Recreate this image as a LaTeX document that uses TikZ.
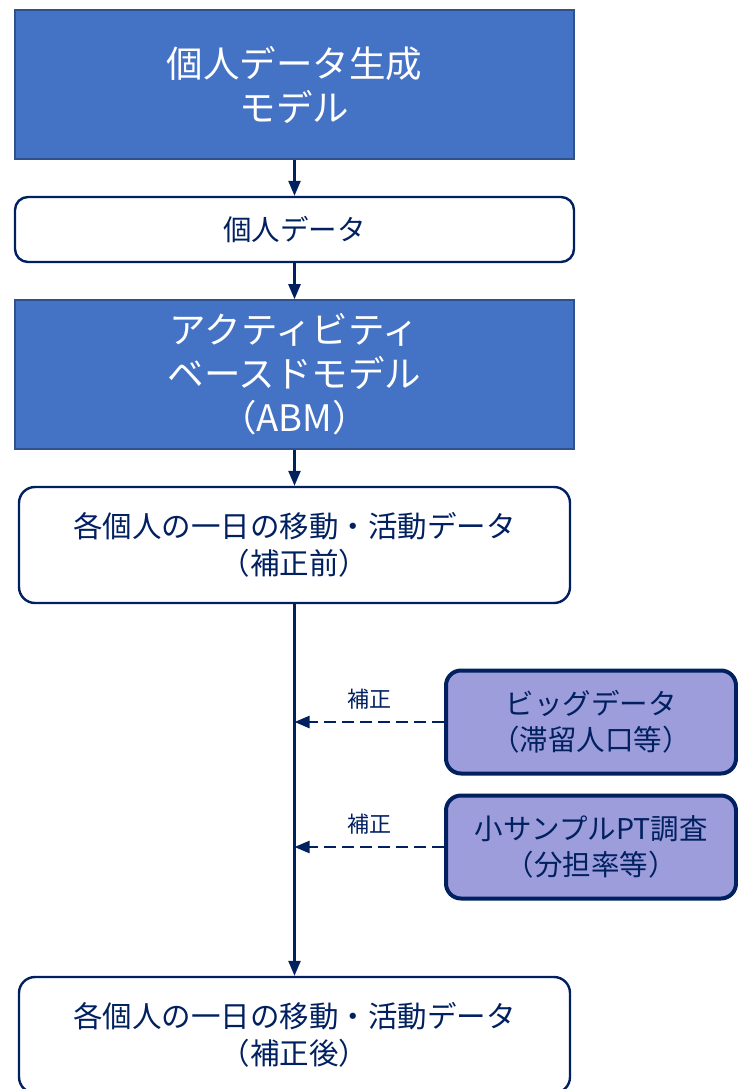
\documentclass[tikz,border=0pt]{standalone}
\usepackage{fontspec}
\setmainfont{Noto Sans CJK JP}
\usetikzlibrary{arrows.meta,calc}
\definecolor{bluefill}{HTML}{4472C4}
\definecolor{blueedge}{HTML}{2F528F}
\definecolor{navy}{HTML}{002060}
\definecolor{lavender}{HTML}{9D9DDC}
\tikzset{
  modelbox/.style={draw=blueedge, line width=1.6pt, fill=bluefill, text=white, align=center,
    font=\fontsize{36.5}{44}\selectfont, minimum width=559pt, inner sep=0pt},
  databox/.style={draw=navy, line width=2.4pt, fill=white, text=navy, rounded corners=13pt,
    align=center, inner sep=0pt},
  srcbox/.style={draw=navy, line width=4pt, fill=lavender, text=navy, rounded corners=15pt,
    align=center, inner sep=0pt, minimum width=290pt, minimum height=103pt,
    font=\fontsize{28.5}{36}\selectfont},
  flow/.style={draw=navy, line width=2.4pt, -{Triangle[length=15pt,width=12pt]}},
  corr/.style={draw=navy, line width=2.4pt, dash pattern=on 12pt off 6pt, -{Triangle[length=15pt,width=12pt]}},
  corrlabel/.style={text=navy, font=\fontsize{22}{24}\selectfont, above=8pt}
}
\begin{document}
\begin{tikzpicture}[x=1pt,y=-1pt]
\useasboundingbox (0,0) rectangle (738,1089);
\clip (0,0) rectangle (738,1089);
\node[modelbox, minimum height=149pt] (gen) at (294.5,84.5) {個人データ生成\\モデル};
\node[databox, minimum width=559pt, minimum height=65pt, font=\fontsize{28.5}{34}\selectfont] (pd) at (294.5,229.5) {個人データ};
\node[modelbox, minimum height=149pt] (abm) at (294.5,374.5) {アクティビティ\\ベースドモデル\\（ABM）};
\node[databox, minimum width=551pt, minimum height=116pt, rounded corners=16pt, font=\fontsize{29.5}{37}\selectfont] (pre) at (294.5,545) {各個人の一日の移動・活動データ\\（補正前）};
\node[databox, minimum width=551pt, minimum height=116pt, rounded corners=16pt, font=\fontsize{29.5}{37}\selectfont] (post) at (294.5,1035) {各個人の一日の移動・活動データ\\（補正後）};
\node[srcbox] (big) at (591,722) {ビッグデータ\\（滞留人口等）};
\node[srcbox] (pt) at (591,847) {小サンプルPT調査\\（分担率等）};
\draw[flow] (gen) -- (pd);
\draw[flow] (pd) -- (abm);
\draw[flow] (abm) -- (pre);
\draw[flow] (pre) -- (post);
\draw[corr] (big.west) -- (big.west -| pre.south) node[pos=0.5, corrlabel] {補正};
\draw[corr] (pt.west) -- (pt.west -| pre.south) node[pos=0.5, corrlabel] {補正};
\end{tikzpicture}
\end{document}
